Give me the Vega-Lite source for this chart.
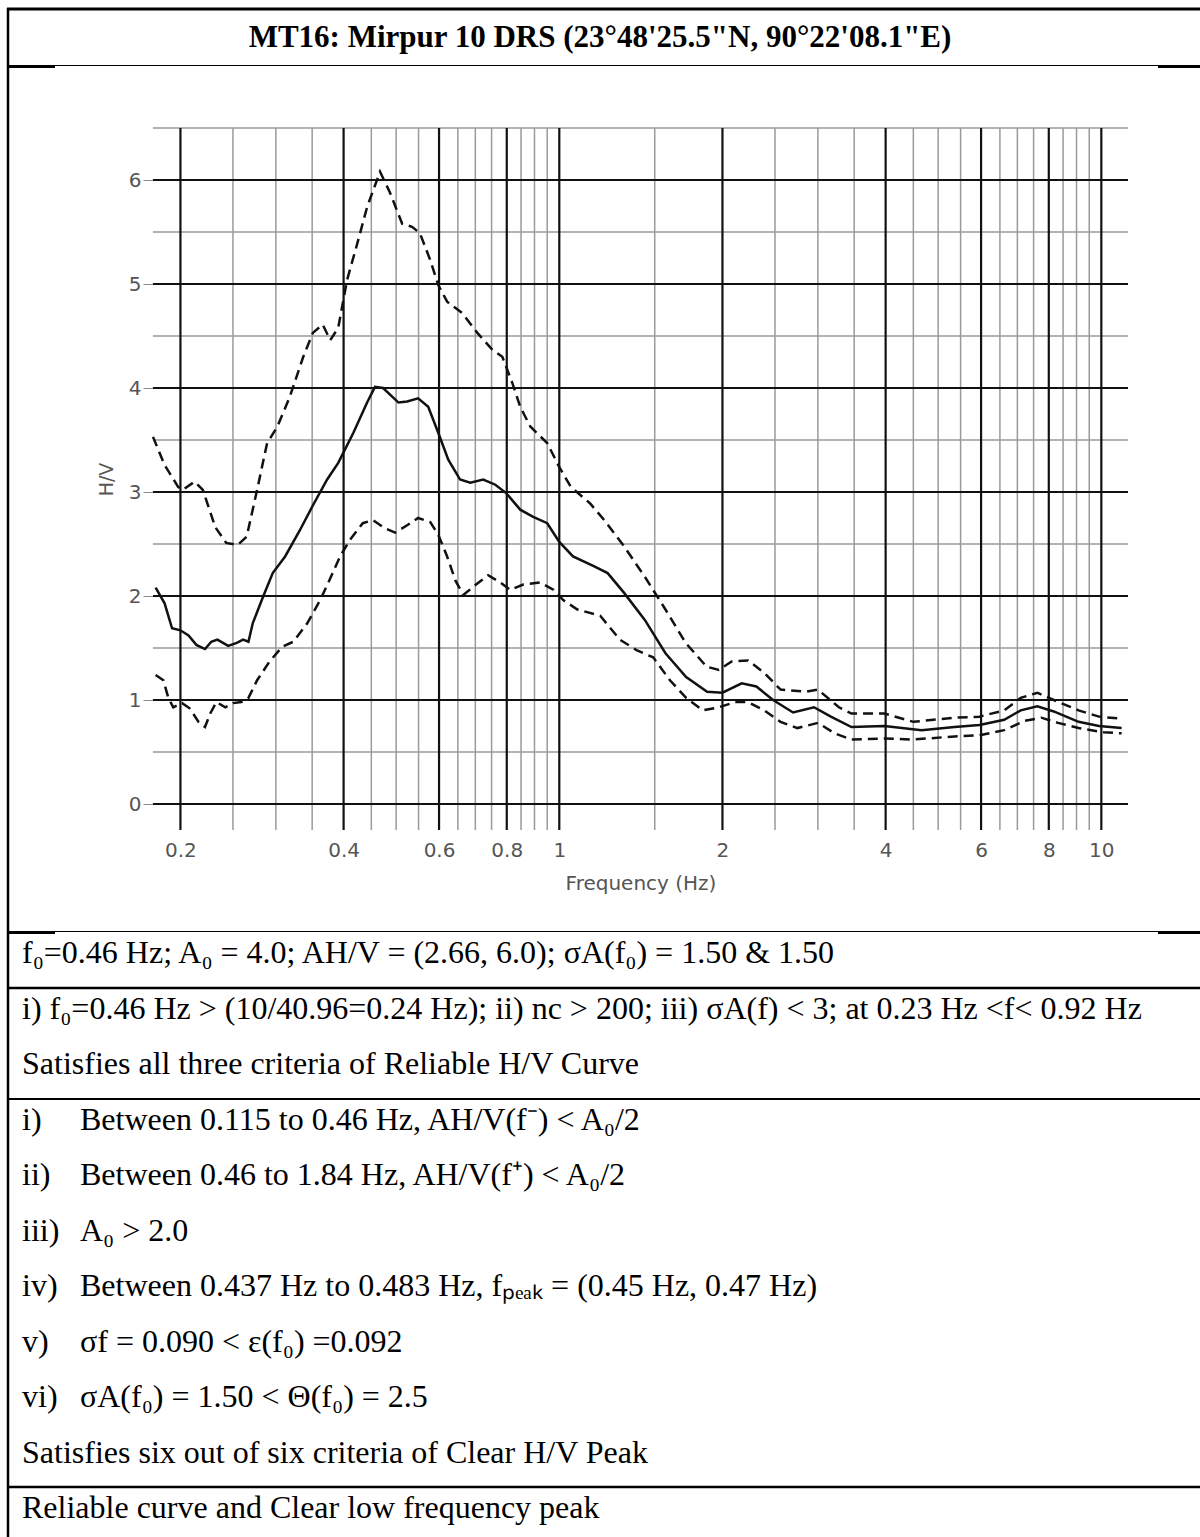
{
  "$schema": "https://vega.github.io/schema/vega-lite/v6.json",
  "width": 975,
  "height": 702,
  "autosize": {"type": "none"},
  "padding": {"left": 153, "top": 128, "right": 72, "bottom": 707},
  "background": "white",
  "config": {"view": {"stroke": null}},
  "datasets": {
    "vmajor": [{"f": 0.2}, {"f": 0.4}, {"f": 0.6}, {"f": 0.8}, {"f": 1}, {"f": 2}, {"f": 4}, {"f": 6}, {"f": 8}, {"f": 10}],
    "vminor": [{"f": 0.25}, {"f": 0.3}, {"f": 0.35}, {"f": 0.45}, {"f": 0.5}, {"f": 0.55}, {"f": 0.65}, {"f": 0.7}, {"f": 0.75}, {"f": 0.85}, {"f": 0.9}, {"f": 0.95}, {"f": 1.5}, {"f": 2.5}, {"f": 3}, {"f": 3.5}, {"f": 4.5}, {"f": 5}, {"f": 5.5}, {"f": 6.5}, {"f": 7}, {"f": 7.5}, {"f": 8.5}, {"f": 9}, {"f": 9.5}],
    "hmajor": [{"v": 0}, {"v": 1}, {"v": 2}, {"v": 3}, {"v": 4}, {"v": 5}, {"v": 6}],
    "hminor": [{"v": 0.5}, {"v": 1.5}, {"v": 2.5}, {"v": 3.5}, {"v": 4.5}, {"v": 5.5}, {"v": 6.5}],
    "curves": [
      {"s": "mean", "f": 0.18, "v": 2.08}, {"s": "mean", "f": 0.187, "v": 1.93}, {"s": "mean", "f": 0.193, "v": 1.69}, {"s": "mean", "f": 0.2, "v": 1.67},
      {"s": "mean", "f": 0.207, "v": 1.62}, {"s": "mean", "f": 0.214, "v": 1.53}, {"s": "mean", "f": 0.222, "v": 1.49}, {"s": "mean", "f": 0.228, "v": 1.56},
      {"s": "mean", "f": 0.234, "v": 1.58}, {"s": "mean", "f": 0.245, "v": 1.52}, {"s": "mean", "f": 0.254, "v": 1.55}, {"s": "mean", "f": 0.261, "v": 1.58},
      {"s": "mean", "f": 0.267, "v": 1.56}, {"s": "mean", "f": 0.272, "v": 1.74}, {"s": "mean", "f": 0.284, "v": 1.99}, {"s": "mean", "f": 0.296, "v": 2.22},
      {"s": "mean", "f": 0.312, "v": 2.38}, {"s": "mean", "f": 0.332, "v": 2.63}, {"s": "mean", "f": 0.351, "v": 2.87}, {"s": "mean", "f": 0.373, "v": 3.12},
      {"s": "mean", "f": 0.391, "v": 3.28}, {"s": "mean", "f": 0.417, "v": 3.57}, {"s": "mean", "f": 0.442, "v": 3.86}, {"s": "mean", "f": 0.457, "v": 4.01},
      {"s": "mean", "f": 0.473, "v": 4.0}, {"s": "mean", "f": 0.505, "v": 3.86}, {"s": "mean", "f": 0.524, "v": 3.87}, {"s": "mean", "f": 0.549, "v": 3.9},
      {"s": "mean", "f": 0.573, "v": 3.82}, {"s": "mean", "f": 0.598, "v": 3.57}, {"s": "mean", "f": 0.624, "v": 3.31}, {"s": "mean", "f": 0.656, "v": 3.12},
      {"s": "mean", "f": 0.685, "v": 3.09}, {"s": "mean", "f": 0.724, "v": 3.12}, {"s": "mean", "f": 0.762, "v": 3.07}, {"s": "mean", "f": 0.798, "v": 2.99},
      {"s": "mean", "f": 0.847, "v": 2.83}, {"s": "mean", "f": 0.895, "v": 2.76}, {"s": "mean", "f": 0.95, "v": 2.7}, {"s": "mean", "f": 1.0, "v": 2.52},
      {"s": "mean", "f": 1.06, "v": 2.38}, {"s": "mean", "f": 1.155, "v": 2.29}, {"s": "mean", "f": 1.228, "v": 2.22}, {"s": "mean", "f": 1.317, "v": 2.03},
      {"s": "mean", "f": 1.438, "v": 1.77}, {"s": "mean", "f": 1.57, "v": 1.45}, {"s": "mean", "f": 1.714, "v": 1.22}, {"s": "mean", "f": 1.874, "v": 1.08},
      {"s": "mean", "f": 2.0, "v": 1.07}, {"s": "mean", "f": 2.17, "v": 1.16}, {"s": "mean", "f": 2.31, "v": 1.13}, {"s": "mean", "f": 2.48, "v": 1.0},
      {"s": "mean", "f": 2.7, "v": 0.88}, {"s": "mean", "f": 2.95, "v": 0.93}, {"s": "mean", "f": 3.17, "v": 0.84}, {"s": "mean", "f": 3.46, "v": 0.74},
      {"s": "mean", "f": 3.98, "v": 0.75}, {"s": "mean", "f": 4.66, "v": 0.71}, {"s": "mean", "f": 5.36, "v": 0.74}, {"s": "mean", "f": 5.96, "v": 0.76},
      {"s": "mean", "f": 6.62, "v": 0.81}, {"s": "mean", "f": 7.1, "v": 0.9}, {"s": "mean", "f": 7.62, "v": 0.94}, {"s": "mean", "f": 8.17, "v": 0.89},
      {"s": "mean", "f": 9.08, "v": 0.79}, {"s": "mean", "f": 9.9, "v": 0.75}, {"s": "mean", "f": 10.9, "v": 0.73},

      {"s": "upper", "f": 0.178, "v": 3.53}, {"s": "upper", "f": 0.187, "v": 3.26}, {"s": "upper", "f": 0.198, "v": 3.05}, {"s": "upper", "f": 0.202, "v": 3.02},
      {"s": "upper", "f": 0.2125, "v": 3.1}, {"s": "upper", "f": 0.22, "v": 3.02}, {"s": "upper", "f": 0.232, "v": 2.66}, {"s": "upper", "f": 0.243, "v": 2.51},
      {"s": "upper", "f": 0.255, "v": 2.49}, {"s": "upper", "f": 0.265, "v": 2.57}, {"s": "upper", "f": 0.277, "v": 3.02}, {"s": "upper", "f": 0.289, "v": 3.47},
      {"s": "upper", "f": 0.302, "v": 3.63}, {"s": "upper", "f": 0.318, "v": 3.91}, {"s": "upper", "f": 0.337, "v": 4.3}, {"s": "upper", "f": 0.351, "v": 4.53},
      {"s": "upper", "f": 0.366, "v": 4.61}, {"s": "upper", "f": 0.378, "v": 4.46}, {"s": "upper", "f": 0.391, "v": 4.58}, {"s": "upper", "f": 0.406, "v": 5.04},
      {"s": "upper", "f": 0.424, "v": 5.39}, {"s": "upper", "f": 0.442, "v": 5.74}, {"s": "upper", "f": 0.467, "v": 6.08}, {"s": "upper", "f": 0.487, "v": 5.88},
      {"s": "upper", "f": 0.513, "v": 5.58}, {"s": "upper", "f": 0.535, "v": 5.55}, {"s": "upper", "f": 0.553, "v": 5.49}, {"s": "upper", "f": 0.578, "v": 5.23},
      {"s": "upper", "f": 0.598, "v": 4.99}, {"s": "upper", "f": 0.621, "v": 4.83}, {"s": "upper", "f": 0.662, "v": 4.72}, {"s": "upper", "f": 0.706, "v": 4.53},
      {"s": "upper", "f": 0.752, "v": 4.37}, {"s": "upper", "f": 0.785, "v": 4.3}, {"s": "upper", "f": 0.819, "v": 4.05}, {"s": "upper", "f": 0.847, "v": 3.82},
      {"s": "upper", "f": 0.884, "v": 3.63}, {"s": "upper", "f": 0.95, "v": 3.47}, {"s": "upper", "f": 1.0, "v": 3.24}, {"s": "upper", "f": 1.05, "v": 3.05},
      {"s": "upper", "f": 1.14, "v": 2.89}, {"s": "upper", "f": 1.21, "v": 2.73}, {"s": "upper", "f": 1.32, "v": 2.47}, {"s": "upper", "f": 1.44, "v": 2.18},
      {"s": "upper", "f": 1.57, "v": 1.87}, {"s": "upper", "f": 1.71, "v": 1.55}, {"s": "upper", "f": 1.87, "v": 1.32}, {"s": "upper", "f": 1.97, "v": 1.29},
      {"s": "upper", "f": 2.08, "v": 1.37}, {"s": "upper", "f": 2.23, "v": 1.38}, {"s": "upper", "f": 2.39, "v": 1.26}, {"s": "upper", "f": 2.56, "v": 1.1},
      {"s": "upper", "f": 2.85, "v": 1.08}, {"s": "upper", "f": 3.0, "v": 1.1}, {"s": "upper", "f": 3.28, "v": 0.93}, {"s": "upper", "f": 3.46, "v": 0.87},
      {"s": "upper", "f": 3.98, "v": 0.87}, {"s": "upper", "f": 4.5, "v": 0.79}, {"s": "upper", "f": 5.36, "v": 0.83}, {"s": "upper", "f": 5.96, "v": 0.84},
      {"s": "upper", "f": 6.62, "v": 0.9}, {"s": "upper", "f": 7.1, "v": 1.02}, {"s": "upper", "f": 7.62, "v": 1.07}, {"s": "upper", "f": 8.17, "v": 1.0},
      {"s": "upper", "f": 9.08, "v": 0.9}, {"s": "upper", "f": 9.9, "v": 0.84}, {"s": "upper", "f": 10.9, "v": 0.82},

      {"s": "lower", "f": 0.18, "v": 1.24}, {"s": "lower", "f": 0.186, "v": 1.19}, {"s": "lower", "f": 0.19, "v": 1.02}, {"s": "lower", "f": 0.194, "v": 0.93},
      {"s": "lower", "f": 0.2015, "v": 0.97}, {"s": "lower", "f": 0.208, "v": 0.92}, {"s": "lower", "f": 0.216, "v": 0.79}, {"s": "lower", "f": 0.222, "v": 0.74},
      {"s": "lower", "f": 0.227, "v": 0.87}, {"s": "lower", "f": 0.233, "v": 0.98}, {"s": "lower", "f": 0.242, "v": 0.93}, {"s": "lower", "f": 0.25, "v": 0.97},
      {"s": "lower", "f": 0.259, "v": 0.98}, {"s": "lower", "f": 0.267, "v": 1.02}, {"s": "lower", "f": 0.277, "v": 1.19}, {"s": "lower", "f": 0.292, "v": 1.37},
      {"s": "lower", "f": 0.308, "v": 1.51}, {"s": "lower", "f": 0.323, "v": 1.56}, {"s": "lower", "f": 0.343, "v": 1.74}, {"s": "lower", "f": 0.362, "v": 1.96},
      {"s": "lower", "f": 0.378, "v": 2.17}, {"s": "lower", "f": 0.394, "v": 2.38}, {"s": "lower", "f": 0.411, "v": 2.54}, {"s": "lower", "f": 0.434, "v": 2.7},
      {"s": "lower", "f": 0.453, "v": 2.73}, {"s": "lower", "f": 0.477, "v": 2.65}, {"s": "lower", "f": 0.498, "v": 2.61}, {"s": "lower", "f": 0.524, "v": 2.68},
      {"s": "lower", "f": 0.549, "v": 2.75}, {"s": "lower", "f": 0.578, "v": 2.71}, {"s": "lower", "f": 0.598, "v": 2.59}, {"s": "lower", "f": 0.621, "v": 2.38},
      {"s": "lower", "f": 0.643, "v": 2.15}, {"s": "lower", "f": 0.665, "v": 2.01}, {"s": "lower", "f": 0.706, "v": 2.12}, {"s": "lower", "f": 0.739, "v": 2.2},
      {"s": "lower", "f": 0.778, "v": 2.13}, {"s": "lower", "f": 0.812, "v": 2.06}, {"s": "lower", "f": 0.858, "v": 2.11}, {"s": "lower", "f": 0.922, "v": 2.13},
      {"s": "lower", "f": 0.975, "v": 2.06}, {"s": "lower", "f": 1.017, "v": 1.96}, {"s": "lower", "f": 1.08, "v": 1.87}, {"s": "lower", "f": 1.19, "v": 1.81},
      {"s": "lower", "f": 1.294, "v": 1.58}, {"s": "lower", "f": 1.388, "v": 1.48}, {"s": "lower", "f": 1.49, "v": 1.41}, {"s": "lower", "f": 1.6, "v": 1.19},
      {"s": "lower", "f": 1.714, "v": 1.02}, {"s": "lower", "f": 1.84, "v": 0.9}, {"s": "lower", "f": 1.97, "v": 0.93}, {"s": "lower", "f": 2.11, "v": 0.98},
      {"s": "lower", "f": 2.23, "v": 0.98}, {"s": "lower", "f": 2.39, "v": 0.9}, {"s": "lower", "f": 2.56, "v": 0.79}, {"s": "lower", "f": 2.75, "v": 0.73},
      {"s": "lower", "f": 3.0, "v": 0.78}, {"s": "lower", "f": 3.22, "v": 0.68}, {"s": "lower", "f": 3.46, "v": 0.62}, {"s": "lower", "f": 3.98, "v": 0.63},
      {"s": "lower", "f": 4.5, "v": 0.62}, {"s": "lower", "f": 5.36, "v": 0.65}, {"s": "lower", "f": 5.96, "v": 0.66}, {"s": "lower", "f": 6.62, "v": 0.71},
      {"s": "lower", "f": 7.23, "v": 0.8}, {"s": "lower", "f": 7.75, "v": 0.83}, {"s": "lower", "f": 8.32, "v": 0.78}, {"s": "lower", "f": 9.08, "v": 0.73},
      {"s": "lower", "f": 10.1, "v": 0.69}, {"s": "lower", "f": 10.9, "v": 0.68}
    ],
    "heading": [{"t": "MT16: Mirpur 10 DRS (23°48'25.5\"N, 90°22'08.1\"E)"}],
    "body": [
      {"line": "L1", "label": "", "body": "f₀=0.46 Hz; A₀ = 4.0; AH/V = (2.66, 6.0); σA(f₀) = 1.50 & 1.50"},
      {"line": "L2", "label": "", "body": "i) f₀=0.46 Hz > (10/40.96=0.24 Hz); ii) nc > 200; iii) σA(f) < 3; at 0.23 Hz <f< 0.92 Hz"},
      {"line": "L3", "label": "", "body": "Satisfies all three criteria of Reliable H/V Curve"},
      {"line": "L4", "label": "i)", "body": "Between 0.115 to 0.46 Hz, AH/V(f⁻) < A₀/2"},
      {"line": "L5", "label": "ii)", "body": "Between 0.46 to 1.84 Hz, AH/V(f⁺) < A₀/2"},
      {"line": "L6", "label": "iii)", "body": "A₀ > 2.0"},
      {"line": "L7", "label": "iv)", "body": "Between 0.437 Hz to 0.483 Hz, fₚₑₐₖ = (0.45 Hz, 0.47 Hz)"},
      {"line": "L8", "label": "v)", "body": "σf = 0.090 < ε(f₀) =0.092"},
      {"line": "L9", "label": "vi)", "body": "σA(f₀) = 1.50 < Θ(f₀) = 2.5"},
      {"line": "L10", "label": "", "body": "Satisfies six out of six criteria of Clear H/V Peak"},
      {"line": "L11", "label": "", "body": "Reliable curve and Clear low frequency peak"}
    ]
  },
  "layer": [
    {
      "layer": [
        {
          "data": {"name": "hminor"},
          "mark": {"type": "rule", "color": "#9a9a9a", "strokeWidth": 1.5},
          "encoding": {
            "y": {
              "field": "v", "type": "quantitative", "scale": {"domain": [-0.25, 6.5], "nice": false, "zero": false},
              "axis": {
                "orient": "left", "values": [0, 1, 2, 3, 4, 5, 6], "format": "d", "grid": false, "domain": false,
                "ticks": true, "tickSize": 10, "tickColor": "#8a8a8a", "tickWidth": 1,
                "labelPadding": 2, "labelFont": "DejaVu Sans", "labelFontSize": 20, "labelColor": "#555555",
                "title": "H/V", "titleFont": "DejaVu Sans", "titleFontSize": 19, "titleFontWeight": "normal", "titleColor": "#555555", "titlePadding": 12
              }
            },
            "x": {"datum": 0.178, "type": "quantitative", "scale": {"type": "log", "domain": [0.178, 11.2], "nice": false}},
            "x2": {"datum": 11.2}
          }
        },
        {
          "data": {"name": "vminor"},
          "mark": {"type": "rule", "color": "#9a9a9a", "strokeWidth": 1.5},
          "encoding": {
            "x": {
              "field": "f", "type": "quantitative", "scale": {"type": "log", "domain": [0.178, 11.2], "nice": false},
              "axis": {
                "orient": "bottom", "values": [0.2, 0.4, 0.6, 0.8, 1, 2, 4, 6, 8, 10], "format": "~g",
                "grid": false, "domain": false, "ticks": false, "labelFlush": false, "labelOverlap": false,
                "labelPadding": 10, "labelFont": "DejaVu Sans", "labelFontSize": 20, "labelColor": "#555555",
                "title": "Frequency (Hz)", "titleFont": "DejaVu Sans", "titleFontSize": 20, "titleFontWeight": "normal", "titleColor": "#555555", "titlePadding": 13
              }
            },
            "y": {"datum": -0.25, "type": "quantitative", "scale": {"domain": [-0.25, 6.5], "nice": false, "zero": false}},
            "y2": {"datum": 6.5}
          }
        },
        {
          "data": {"name": "hmajor"},
          "mark": {"type": "rule", "color": "#111111", "strokeWidth": 2.2},
          "encoding": {
            "y": {"field": "v", "type": "quantitative", "scale": {"domain": [-0.25, 6.5], "nice": false, "zero": false}},
            "x": {"datum": 0.178, "type": "quantitative", "scale": {"type": "log", "domain": [0.178, 11.2], "nice": false}},
            "x2": {"datum": 11.2}
          }
        },
        {
          "data": {"name": "vmajor"},
          "mark": {"type": "rule", "color": "#111111", "strokeWidth": 2.2},
          "encoding": {
            "x": {"field": "f", "type": "quantitative", "scale": {"type": "log", "domain": [0.178, 11.2], "nice": false}},
            "y": {"datum": -0.25, "type": "quantitative", "scale": {"domain": [-0.25, 6.5], "nice": false, "zero": false}},
            "y2": {"datum": 6.5}
          }
        },
        {
          "data": {"name": "curves"},
          "transform": [{"filter": "datum.s === 'mean'"}],
          "mark": {"type": "line", "color": "#111111", "strokeWidth": 2.5},
          "encoding": {
            "x": {"field": "f", "type": "quantitative", "scale": {"type": "log", "domain": [0.178, 11.2], "nice": false}},
            "y": {"field": "v", "type": "quantitative", "scale": {"domain": [-0.25, 6.5], "nice": false, "zero": false}},
            "order": {"field": "f", "type": "quantitative"}
          }
        },
        {
          "data": {"name": "curves"},
          "transform": [{"filter": "datum.s !== 'mean'"}],
          "mark": {"type": "line", "color": "#111111", "strokeWidth": 2.5, "strokeDash": [10, 6]},
          "encoding": {
            "x": {"field": "f", "type": "quantitative", "scale": {"type": "log", "domain": [0.178, 11.2], "nice": false}},
            "y": {"field": "v", "type": "quantitative", "scale": {"domain": [-0.25, 6.5], "nice": false, "zero": false}},
            "detail": {"field": "s", "type": "nominal"},
            "order": {"field": "f", "type": "quantitative"}
          }
        }
      ]
    },
    {
      "data": {"name": "heading"},
      "layer": [
        {
          "mark": {"type": "rule", "color": "black", "strokeWidth": 3},
          "encoding": {
            "x": {"datum": 7, "type": "quantitative", "scale": {"domain": [0, 1200], "range": [-153, 1047], "nice": false, "zero": false}, "axis": null},
            "x2": {"datum": 1200},
            "y": {"datum": 9, "type": "quantitative", "scale": {"domain": [0, 1537], "range": [-128, 1409], "nice": false, "zero": false}, "axis": null}
          }
        },
        {
          "mark": {"type": "rule", "color": "black", "strokeWidth": 2.5},
          "encoding": {
            "x": {"datum": 8, "type": "quantitative", "scale": {"domain": [0, 1200], "range": [-153, 1047], "nice": false, "zero": false}, "axis": null},
            "y": {"datum": 8, "type": "quantitative", "scale": {"domain": [0, 1537], "range": [-128, 1409], "nice": false, "zero": false}, "axis": null},
            "y2": {"datum": 1537}
          }
        },
        {
          "mark": {"type": "rule", "color": "black", "strokeWidth": 1.2},
          "encoding": {
            "x": {"datum": 8, "type": "quantitative", "scale": {"domain": [0, 1200], "range": [-153, 1047], "nice": false, "zero": false}, "axis": null},
            "x2": {"datum": 1200},
            "y": {"datum": 65.5, "type": "quantitative", "scale": {"domain": [0, 1537], "range": [-128, 1409], "nice": false, "zero": false}, "axis": null}
          }
        },
        {
          "mark": {"type": "rule", "color": "black", "strokeWidth": 3},
          "encoding": {
            "x": {"datum": 8, "type": "quantitative", "scale": {"domain": [0, 1200], "range": [-153, 1047], "nice": false, "zero": false}, "axis": null},
            "x2": {"datum": 55},
            "y": {"datum": 66.5, "type": "quantitative", "scale": {"domain": [0, 1537], "range": [-128, 1409], "nice": false, "zero": false}, "axis": null}
          }
        },
        {
          "mark": {"type": "rule", "color": "black", "strokeWidth": 3},
          "encoding": {
            "x": {"datum": 1158, "type": "quantitative", "scale": {"domain": [0, 1200], "range": [-153, 1047], "nice": false, "zero": false}, "axis": null},
            "x2": {"datum": 1200},
            "y": {"datum": 66.5, "type": "quantitative", "scale": {"domain": [0, 1537], "range": [-128, 1409], "nice": false, "zero": false}, "axis": null}
          }
        },
        {
          "mark": {"type": "rule", "color": "black", "strokeWidth": 1.2},
          "encoding": {
            "x": {"datum": 8, "type": "quantitative", "scale": {"domain": [0, 1200], "range": [-153, 1047], "nice": false, "zero": false}, "axis": null},
            "x2": {"datum": 1200},
            "y": {"datum": 931.5, "type": "quantitative", "scale": {"domain": [0, 1537], "range": [-128, 1409], "nice": false, "zero": false}, "axis": null}
          }
        },
        {
          "mark": {"type": "rule", "color": "black", "strokeWidth": 3},
          "encoding": {
            "x": {"datum": 8, "type": "quantitative", "scale": {"domain": [0, 1200], "range": [-153, 1047], "nice": false, "zero": false}, "axis": null},
            "x2": {"datum": 55},
            "y": {"datum": 932.5, "type": "quantitative", "scale": {"domain": [0, 1537], "range": [-128, 1409], "nice": false, "zero": false}, "axis": null}
          }
        },
        {
          "mark": {"type": "rule", "color": "black", "strokeWidth": 3},
          "encoding": {
            "x": {"datum": 1158, "type": "quantitative", "scale": {"domain": [0, 1200], "range": [-153, 1047], "nice": false, "zero": false}, "axis": null},
            "x2": {"datum": 1200},
            "y": {"datum": 932.5, "type": "quantitative", "scale": {"domain": [0, 1537], "range": [-128, 1409], "nice": false, "zero": false}, "axis": null}
          }
        },
        {
          "mark": {"type": "rule", "color": "black", "strokeWidth": 2.5},
          "encoding": {
            "x": {"datum": 8, "type": "quantitative", "scale": {"domain": [0, 1200], "range": [-153, 1047], "nice": false, "zero": false}, "axis": null},
            "x2": {"datum": 1200},
            "y": {"datum": 988, "type": "quantitative", "scale": {"domain": [0, 1537], "range": [-128, 1409], "nice": false, "zero": false}, "axis": null}
          }
        },
        {
          "mark": {"type": "rule", "color": "black", "strokeWidth": 2},
          "encoding": {
            "x": {"datum": 8, "type": "quantitative", "scale": {"domain": [0, 1200], "range": [-153, 1047], "nice": false, "zero": false}, "axis": null},
            "x2": {"datum": 1200},
            "y": {"datum": 1099, "type": "quantitative", "scale": {"domain": [0, 1537], "range": [-128, 1409], "nice": false, "zero": false}, "axis": null}
          }
        },
        {
          "mark": {"type": "rule", "color": "black", "strokeWidth": 2.5},
          "encoding": {
            "x": {"datum": 8, "type": "quantitative", "scale": {"domain": [0, 1200], "range": [-153, 1047], "nice": false, "zero": false}, "axis": null},
            "x2": {"datum": 1200},
            "y": {"datum": 1487, "type": "quantitative", "scale": {"domain": [0, 1537], "range": [-128, 1409], "nice": false, "zero": false}, "axis": null}
          }
        },
        {
          "mark": {"type": "text", "font": "Liberation Serif", "fontSize": 31, "fontWeight": "bold", "align": "center", "baseline": "middle", "color": "black"},
          "encoding": {
            "x": {"datum": 600, "type": "quantitative", "scale": {"domain": [0, 1200], "range": [-153, 1047], "nice": false, "zero": false}, "axis": null},
            "y": {"datum": 38, "type": "quantitative", "scale": {"domain": [0, 1537], "range": [-128, 1409], "nice": false, "zero": false}, "axis": null},
            "text": {"field": "t"}
          }
        }
      ]
    },
    {
      "data": {"name": "body"},
      "layer": [
        {
          "transform": [{"filter": "datum.label === ''"}],
          "mark": {"type": "text", "font": "Liberation Serif", "fontSize": 32, "align": "left", "baseline": "middle", "color": "black"},
          "encoding": {
            "x": {"datum": 22, "type": "quantitative", "scale": {"domain": [0, 1200], "range": [-153, 1047], "nice": false, "zero": false}, "axis": null},
            "y": {"field": "line", "type": "ordinal", "scale": {"type": "point", "domain": ["L1", "L2", "L3", "L4", "L5", "L6", "L7", "L8", "L9", "L10", "L11"], "range": [825, 1380], "padding": 0}, "axis": null},
            "text": {"field": "body"}
          }
        },
        {
          "transform": [{"filter": "datum.label !== ''"}],
          "mark": {"type": "text", "font": "Liberation Serif", "fontSize": 32, "align": "left", "baseline": "middle", "color": "black"},
          "encoding": {
            "x": {"datum": 22, "type": "quantitative", "scale": {"domain": [0, 1200], "range": [-153, 1047], "nice": false, "zero": false}, "axis": null},
            "y": {"field": "line", "type": "ordinal", "scale": {"type": "point", "domain": ["L1", "L2", "L3", "L4", "L5", "L6", "L7", "L8", "L9", "L10", "L11"], "range": [825, 1380], "padding": 0}, "axis": null},
            "text": {"field": "label"}
          }
        },
        {
          "transform": [{"filter": "datum.label !== ''"}],
          "mark": {"type": "text", "font": "Liberation Serif", "fontSize": 32, "align": "left", "baseline": "middle", "color": "black"},
          "encoding": {
            "x": {"datum": 80, "type": "quantitative", "scale": {"domain": [0, 1200], "range": [-153, 1047], "nice": false, "zero": false}, "axis": null},
            "y": {"field": "line", "type": "ordinal", "scale": {"type": "point", "domain": ["L1", "L2", "L3", "L4", "L5", "L6", "L7", "L8", "L9", "L10", "L11"], "range": [825, 1380], "padding": 0}, "axis": null},
            "text": {"field": "body"}
          }
        }
      ]
    }
  ],
  "resolve": {"scale": {"x": "independent", "y": "independent"}, "axis": {"x": "independent", "y": "independent"}}
}
